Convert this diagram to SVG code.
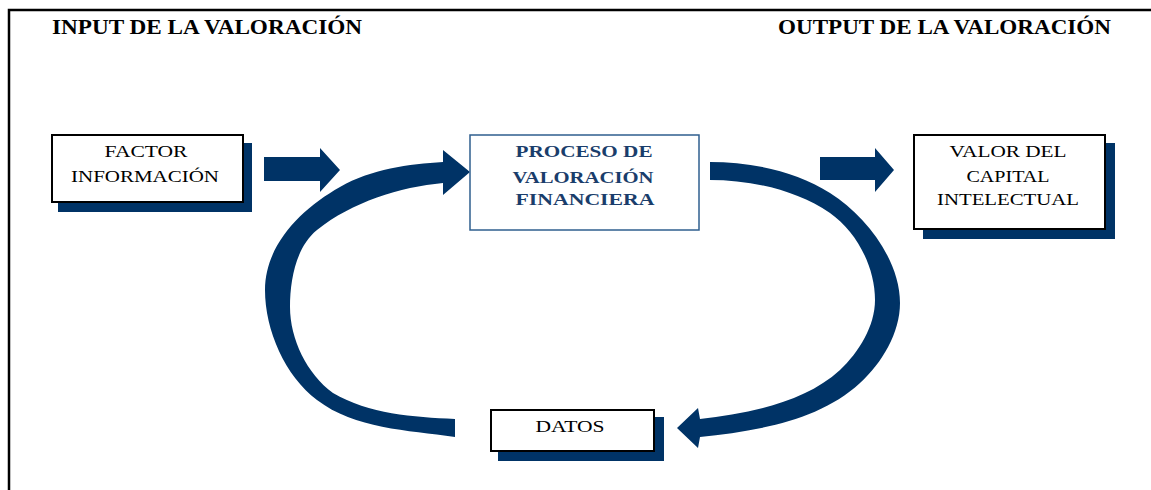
<svg xmlns="http://www.w3.org/2000/svg" width="1151" height="490" viewBox="0 0 1151 490">
  <style>
    .title { font-family: "Liberation Serif", "Times New Roman", serif; font-weight: bold; font-size: 20px; fill: #000; }
    .lbl { font-family: "Liberation Serif", "Times New Roman", serif; font-size: 16px; fill: #000; text-anchor: middle; }
    .proc { font-family: "Liberation Serif", "Times New Roman", serif; font-size: 17px; font-weight: bold; fill: #1a3d6b; text-anchor: middle; }
    .box { fill: #fff; stroke: #000; stroke-width: 2; }
    .shadow { fill: #003366; }
    .flow { fill: #003366; }
  </style>

  <rect width="1151" height="490" fill="#fff"/>

  <!-- frame -->
  <path d="M9,490 V10 H1151" fill="none" stroke="#000" stroke-width="2.5"/>

  <!-- headings -->
  <text class="title" x="52" y="34" textLength="310" lengthAdjust="spacingAndGlyphs">INPUT DE LA VALORACIÓN</text>
  <text class="title" x="778" y="34" textLength="333" lengthAdjust="spacingAndGlyphs">OUTPUT DE LA VALORACIÓN</text>

  <!-- connectors -->
  <g id="connectors">
    <polygon class="flow" points="264,157 320,157 320,148 340,170 320,192 320,181 264,181"/>
    <polygon class="flow" points="820,157 875,157 875,148 894,170 875,192 875,180 820,180"/>
    <!-- return loop on the left, from DATOS up to the process -->
    <path class="flow" d="M455,437
      C407,430 355,429 317,400
      C285,376 265,330 265,290
      C265,245 301,209 340,187
      C371,169 409,164 443,162
      L443,150 L470,172 L443,195 L443,183
      C400,187 352,202 317,230
      C296,247 290,280 290,307
      C290,339 307,374 333,393
      C369,414 413,417 455,419 Z"/>
    <!-- loop on the right, from the process down to DATOS -->
    <path class="flow" d="M710,162
      C751,162 796,171 830,193
      C866,216 900,260 900,303
      C900,333 882,363 860,383
      C819,421 756,431 700,437
      L698,448 L677,428 L698,408 L700,419
      C749,413 804,403 840,370
      C859,352 875,326 875,300
      C875,267 857,232 830,213
      C796,190 751,180 710,180 Z"/>
  </g>

  <g id="factor">
    <rect class="shadow" x="58" y="143" width="194" height="69"/>
    <rect class="box" x="52" y="135" width="191" height="67"/>
    <text class="lbl" x="146" y="157" textLength="83" lengthAdjust="spacingAndGlyphs">FACTOR</text>
    <text class="lbl" x="145" y="182" textLength="148" lengthAdjust="spacingAndGlyphs">INFORMACIÓN</text>
  </g>

  <g id="proceso">
    <rect x="470" y="135" width="229" height="95" fill="#fff" stroke="#2f5f8f" stroke-width="1.5"/>
    <text class="proc" x="584" y="157" textLength="137" lengthAdjust="spacingAndGlyphs">PROCESO DE</text>
    <text class="proc" x="583" y="183" textLength="141" lengthAdjust="spacingAndGlyphs">VALORACIÓN</text>
    <text class="proc" x="585" y="205" textLength="139" lengthAdjust="spacingAndGlyphs">FINANCIERA</text>
  </g>

  <g id="valor">
    <rect class="shadow" x="923" y="143" width="192" height="96"/>
    <rect class="box" x="914" y="135" width="191" height="94"/>
    <text class="lbl" x="1008" y="157" textLength="117" lengthAdjust="spacingAndGlyphs">VALOR DEL</text>
    <text class="lbl" x="1008" y="182" textLength="83" lengthAdjust="spacingAndGlyphs">CAPITAL</text>
    <text class="lbl" x="1008" y="205" textLength="142" lengthAdjust="spacingAndGlyphs">INTELECTUAL</text>
  </g>

  <g id="datos">
    <rect class="shadow" x="498" y="417" width="166" height="44"/>
    <rect class="box" x="491" y="410" width="163" height="41"/>
    <text class="lbl" x="570" y="432" textLength="69" lengthAdjust="spacingAndGlyphs">DATOS</text>
  </g>
</svg>
